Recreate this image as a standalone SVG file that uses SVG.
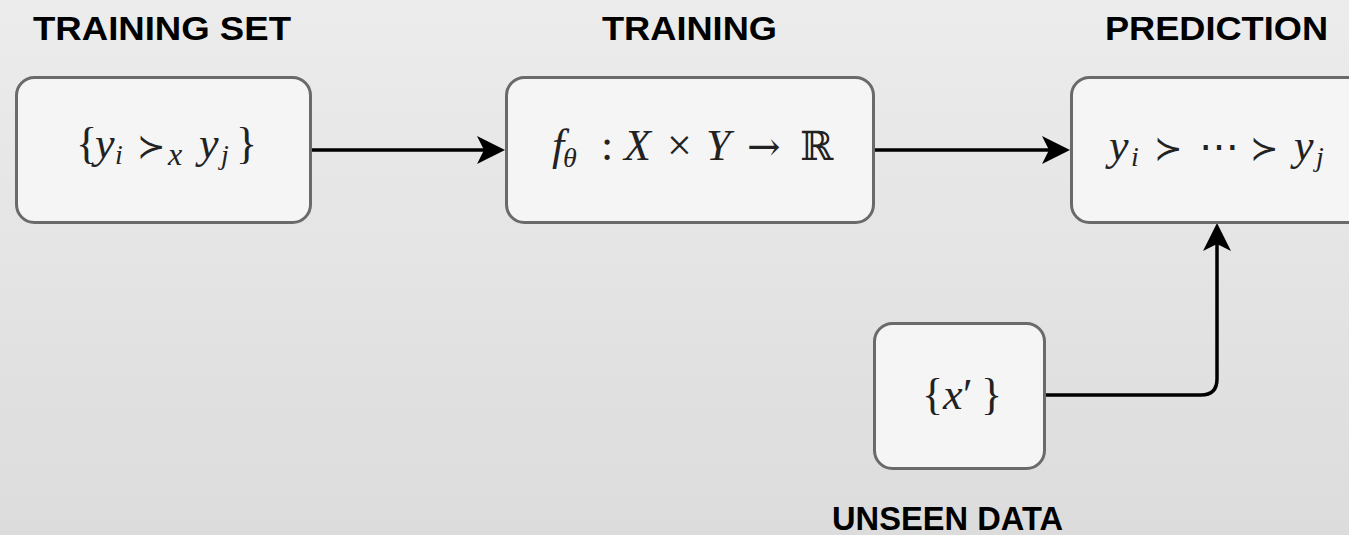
<svg xmlns="http://www.w3.org/2000/svg" width="1349" height="535" viewBox="0 0 1349 535">
  <defs>
    <linearGradient id="bg" x1="0" y1="0" x2="0" y2="1">
      <stop offset="0" stop-color="#ececec"/>
      <stop offset="1" stop-color="#dcdcdc"/>
    </linearGradient>
    <!-- classic notched arrowhead; reference point is the notch so the line ends inside the head -->
    <marker id="arrow" viewBox="-30 -16 32 32" refX="-21" refY="0" markerWidth="32" markerHeight="32" markerUnits="userSpaceOnUse" orient="auto">
      <path d="M0,0 L-28,-14 L-21,0 L-28,14 Z" fill="#000"/>
    </marker>
  </defs>
  <style>
    .box { fill: #f5f5f5; stroke: #6a6a6a; stroke-width: 3; }
    .edge { fill: none; stroke: #000; stroke-width: 3.5; marker-end: url(#arrow); }
    .label { font-family: "Liberation Sans", Arial, sans-serif; font-weight: bold; font-size: 34px; fill: #000; }
    .math { font-family: "Liberation Serif", "DejaVu Serif", serif; font-size: 44px; fill: #222; }
    .it { font-style: italic; }
    .sub { font-size: 28px; }
    .subx { font-size: 32px; }
    .rel { font-family: "DejaVu Serif", serif; font-size: 34px; }
    .dbl { font-family: "DejaVu Serif", serif; font-size: 40px; }
  </style>

  <rect x="0" y="0" width="1349" height="535" fill="url(#bg)"/>

  <!-- section headings -->
  <g id="headings">
    <text class="label" x="33" y="40" textLength="258" lengthAdjust="spacingAndGlyphs">TRAINING SET</text>
    <text class="label" x="602" y="40" textLength="175" lengthAdjust="spacingAndGlyphs">TRAINING</text>
    <text class="label" x="1105" y="40" textLength="223" lengthAdjust="spacingAndGlyphs">PREDICTION</text>
    <text class="label" x="832" y="530" textLength="231" lengthAdjust="spacingAndGlyphs">UNSEEN DATA</text>
  </g>

  <!-- connectors -->
  <g id="connectors">
    <path class="edge" d="M311,150 H484"/>
    <path class="edge" d="M875,150 H1049"/>
    <path class="edge" d="M1046,395 H1201 Q1217,395 1217,379 V244"/>
  </g>

  <!-- training set: pairwise preferences -->
  <g id="node-training-set">
    <rect class="box" x="16.5" y="77.5" width="294" height="145" rx="18"/>
    <text class="math" y="158">
      <tspan x="76">{</tspan>
      <tspan class="it" x="95">y</tspan>
      <tspan class="it sub" x="115" y="164">i</tspan>
      <tspan class="rel" x="137" y="158">≻</tspan>
      <tspan class="it subx" x="168" y="165">x</tspan>
      <tspan class="it" x="199" y="158">y</tspan>
      <tspan class="it sub" x="221" y="164">j</tspan>
      <tspan x="236" y="158">}</tspan>
    </text>
  </g>

  <!-- training: scoring function -->
  <g id="node-training">
    <rect class="box" x="506.5" y="77.5" width="367" height="145" rx="18"/>
    <text class="math" y="160">
      <tspan class="it" x="552">f</tspan>
      <tspan class="it sub" x="563" y="167">θ</tspan>
      <tspan x="601" y="160">:</tspan>
      <tspan class="it" x="624">X</tspan>
      <tspan x="667">×</tspan>
      <tspan class="it" x="706">Y</tspan>
      <tspan class="dbl" x="747">→</tspan>
      <tspan class="dbl" x="800">ℝ</tspan>
    </text>
  </g>

  <!-- prediction: ranked output -->
  <g id="node-prediction">
    <rect class="box" x="1071.5" y="77.5" width="300" height="145" rx="18"/>
    <text class="math" y="160">
      <tspan class="it" x="1109">y</tspan>
      <tspan class="it sub" x="1131" y="166">i</tspan>
      <tspan class="rel" x="1154" y="160">≻</tspan>
      <tspan class="dbl" x="1199">⋯</tspan>
      <tspan class="rel" x="1250">≻</tspan>
      <tspan class="it" x="1294">y</tspan>
      <tspan class="it sub" x="1316" y="166">j</tspan>
    </text>
  </g>

  <!-- unseen data -->
  <g id="node-unseen-data">
    <rect class="box" x="874.5" y="323.5" width="170" height="145" rx="18"/>
    <text class="math" y="409">
      <tspan x="922">{</tspan>
      <tspan class="it" x="943">x</tspan>
      <tspan x="963">′</tspan>
      <tspan x="981">}</tspan>
    </text>
  </g>
</svg>
